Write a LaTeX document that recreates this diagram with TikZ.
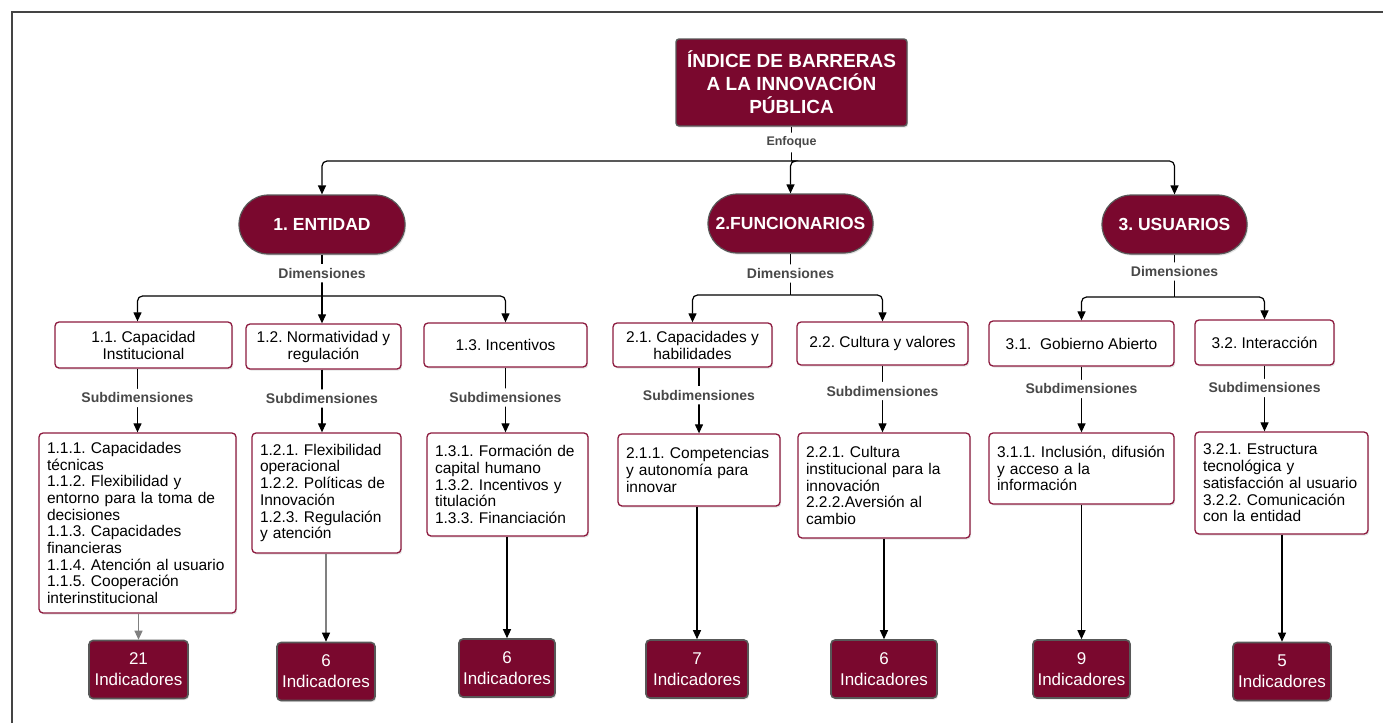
\documentclass[tikz,border=0pt]{standalone}
\usepackage{fontspec}
\setmainfont{Liberation Sans}
\usetikzlibrary{arrows.meta,shapes.misc,shadows}
\frenchspacing

\definecolor{maroon}{RGB}{122,8,46}
\definecolor{boxedge}{RGB}{140,26,62}
\definecolor{edgegray}{RGB}{88,88,88}
\definecolor{lblgray}{RGB}{72,72,72}
\definecolor{frame}{RGB}{68,68,68}
\definecolor{softgray}{RGB}{128,128,128}

\tikzset{
  softshadow/.style={drop shadow={shadow xshift=1.2pt,shadow yshift=-1.6pt,opacity=0.22}},
  titlebox/.style={draw=edgegray, line width=1.4pt, fill=maroon, text=white,
    rounded corners=3pt, align=center, inner sep=0pt, softshadow,
    font=\bfseries\fontsize{19}{23}\selectfont},
  pillbox/.style={rounded rectangle, draw=edgegray, line width=1.2pt, fill=maroon,
    text=white, inner sep=0pt, minimum height=59pt, softshadow,
    font=\bfseries\fontsize{17.5}{20}\selectfont},
  dimbox/.style={draw=boxedge, line width=1.3pt, fill=white, rounded corners=4pt,
    align=center, inner sep=0pt, softshadow,
    font=\fontsize{15.5}{17}\selectfont},
  subbox/.style={draw=boxedge, line width=1.3pt, fill=white, rounded corners=4pt,
    align=left, inner xsep=8pt, inner ysep=0pt, text width=#1, softshadow,
    font=\fontsize{15.5}{16.7}\selectfont},
  indbox/.style={draw=edgegray, line width=1.6pt, fill=maroon, text=white,
    rounded corners=4pt, align=center, inner sep=0pt, minimum height=58pt,
    softshadow, font=\fontsize{17}{21}\selectfont},
  conn/.style={draw=black, line width=1.2pt, rounded corners=5pt},
  arr/.style={conn, -{Triangle[length=9pt,width=8pt]}},
  lbl/.style={fill=white, text=lblgray, inner xsep=2pt, inner ysep=4pt,
    font=\bfseries\fontsize{14}{14}\selectfont},
}

\begin{document}
\begin{tikzpicture}[x=1pt,y=-1pt]
\useasboundingbox (0,0) rectangle (1383,723);

% outer frame (top and left edges)
\draw[frame, line width=2pt] (12,723) -- (12,12) -- (1383,12);

% root
\node[titlebox, minimum width=231pt, minimum height=87pt] (top) at (791.5,82.5)
  {ÍNDICE DE BARRERAS\\A LA INNOVACIÓN\\PÚBLICA};

% approaches
\node[pillbox, minimum width=166pt] (ent) at (322,224.5) {1. ENTIDAD};
\node[pillbox, minimum width=165pt] (fun) at (790.5,223.5) {2.FUNCIONARIOS};
\node[pillbox, minimum width=145pt] (usu) at (1174.5,224.5) {3. USUARIOS};

% dimensions
\node[dimbox, minimum width=177pt, minimum height=46pt] (d11) at (143.5,345) {1.1. Capacidad\\Institucional};
\node[dimbox, minimum width=155pt, minimum height=45pt] (d12) at (323.5,346.5) {1.2. Normatividad y\\regulación};
\node[dimbox, minimum width=163pt, minimum height=44pt] (d13) at (505.5,345) {1.3. Incentivos};
\node[dimbox, minimum width=159pt, minimum height=44pt] (d21) at (692.5,345) {2.1. Capacidades y\\habilidades};
\node[dimbox, minimum width=171pt, minimum height=43pt] (d22) at (882.5,343.5) {2.2. Cultura y valores};
\node[dimbox, minimum width=185pt, minimum height=45pt] (d31) at (1081.5,343.5) {3.1.\ \ Gobierno Abierto};
\node[dimbox, minimum width=139pt, minimum height=45pt] (d32) at (1264.5,342.5) {3.2. Interacción};

% subdimensions
\node[subbox=181pt, minimum height=180pt] (s11) at (137.5,523)
  {1.1.1. Capacidades\\técnicas\\1.1.2. Flexibilidad y\\entorno para la toma de\\decisiones\\1.1.3. Capacidades\\financieras\\1.1.4. Atención al usuario\\1.1.5. Cooperación\\interinstitucional};
\node[subbox=133pt, minimum height=120pt] (s12) at (326.5,493)
  {1.2.1. Flexibilidad\\operacional\\1.2.2. Políticas de\\Innovación\\1.2.3. Regulación\\y atención};
\node[subbox=145pt, minimum height=103pt] (s13) at (507.5,484.5)
  {1.3.1. Formación de\\capital humano\\1.3.2. Incentivos y\\titulación\\1.3.3. Financiación};
\node[subbox=146pt, minimum height=72pt] (s21) at (699,470)
  {2.1.1. Competencias\\y autonomía para\\innovar};
\node[subbox=156pt, minimum height=105pt] (s22) at (884,485.5)
  {2.2.1. Cultura\\institucional para la\\innovación\\2.2.2.Aversión al\\cambio};
\node[subbox=169pt, minimum height=71pt] (s31) at (1081.5,468.5)
  {3.1.1. Inclusión, difusión\\y acceso a la\\información};
\node[subbox=157pt, minimum height=102pt] (s32) at (1281.5,483)
  {3.2.1. Estructura\\tecnológica y\\satisfacción al usuario\\3.2.2. Comunicación\\con la entidad};

% indicator counts
\node[indbox, minimum width=99pt] (i11) at (138.5,669.5) {21\\Indicadores};
\node[indbox, minimum width=98pt] (i12) at (326,671.5) {6\\Indicadores};
\node[indbox, minimum width=96pt] (i13) at (507,668) {6\\Indicadores};
\node[indbox, minimum width=102pt] (i21) at (697,669) {7\\Indicadores};
\node[indbox, minimum width=106pt] (i22) at (884,669) {6\\Indicadores};
\node[indbox, minimum width=97pt] (i31) at (1081.5,669) {9\\Indicadores};
\node[indbox, minimum width=98pt] (i32) at (1282,671.5) {5\\Indicadores};

% junction points
\coordinate (j0) at (791.5,161);
\coordinate (jE) at (322,296);
\coordinate (jF) at (790.5,295);
\coordinate (jU) at (1174.5,297);

% root to approaches
\draw[conn] (top.south) -- node[lbl, pos=0.46, font=\bfseries\fontsize{12.5}{12.5}\selectfont] {Enfoque} (j0);
\draw[arr] (j0) -| (ent.north);
\draw[arr] (j0) -- (j0 -| fun.north) -- (fun.north);
\draw[arr] (j0) -| (usu.north);

% approaches to dimensions
\draw[conn] (ent.south) -- node[lbl, pos=0.45] {Dimensiones} (jE);
\draw[arr] (jE) -| (s11.north |- d11.north);
\draw[arr] (jE) -- (jE |- d12.north);
\draw[arr] (jE) -| (d13.north);

\draw[conn] (fun.south) -- node[lbl, pos=0.48] {Dimensiones} (jF);
\draw[arr] (jF) -| (d21.north);
\draw[arr] (jF) -| (d22.north);

\draw[conn] (usu.south) -- node[lbl, pos=0.4] {Dimensiones} (jU);
\draw[arr] (jU) -| (d31.north);
\draw[arr] (jU) -| (d32.north);

% dimensions to subdimensions
\draw[arr] (s11.north |- d11.south) -- node[lbl, pos=0.46] {Subdimensiones} (s11.north);
\draw[arr] (jE |- d12.south) -- node[lbl, pos=0.46] {Subdimensiones} (jE |- s12.north);
\draw[arr] (d13.south) -- node[lbl, pos=0.46] {Subdimensiones} (d13.south |- s13.north);
\draw[arr] (s21.north |- d21.south) -- node[lbl, pos=0.42] {Subdimensiones} (s21.north);
\draw[arr] (d22.south) -- node[lbl, pos=0.38] {Subdimensiones} (d22.south |- s22.north);
\draw[arr] (d31.south) -- node[lbl, pos=0.34] {Subdimensiones} (d31.south |- s31.north);
\draw[arr] (d32.south) -- node[lbl, pos=0.34] {Subdimensiones} (d32.south |- s32.north);

% subdimensions to indicator counts
\draw[arr, draw=softgray, -{Triangle[length=9pt,width=8pt,color=softgray]}] (s11.south -| i11.north) -- (i11.north);
\draw[arr, draw=softgray, -{Triangle[length=9pt,width=8pt,color=black]}] (s12.south -| i12.north) -- (i12.north);
\draw[arr] (s13.south -| i13.north) -- (i13.north);
\draw[arr] (s21.south -| i21.north) -- (i21.north);
\draw[arr] (s22.south -| i22.north) -- (i22.north);
\draw[arr] (s31.south -| i31.north) -- (i31.north);
\draw[arr] (s32.south -| i32.north) -- (i32.north);
\end{tikzpicture}
\end{document}
